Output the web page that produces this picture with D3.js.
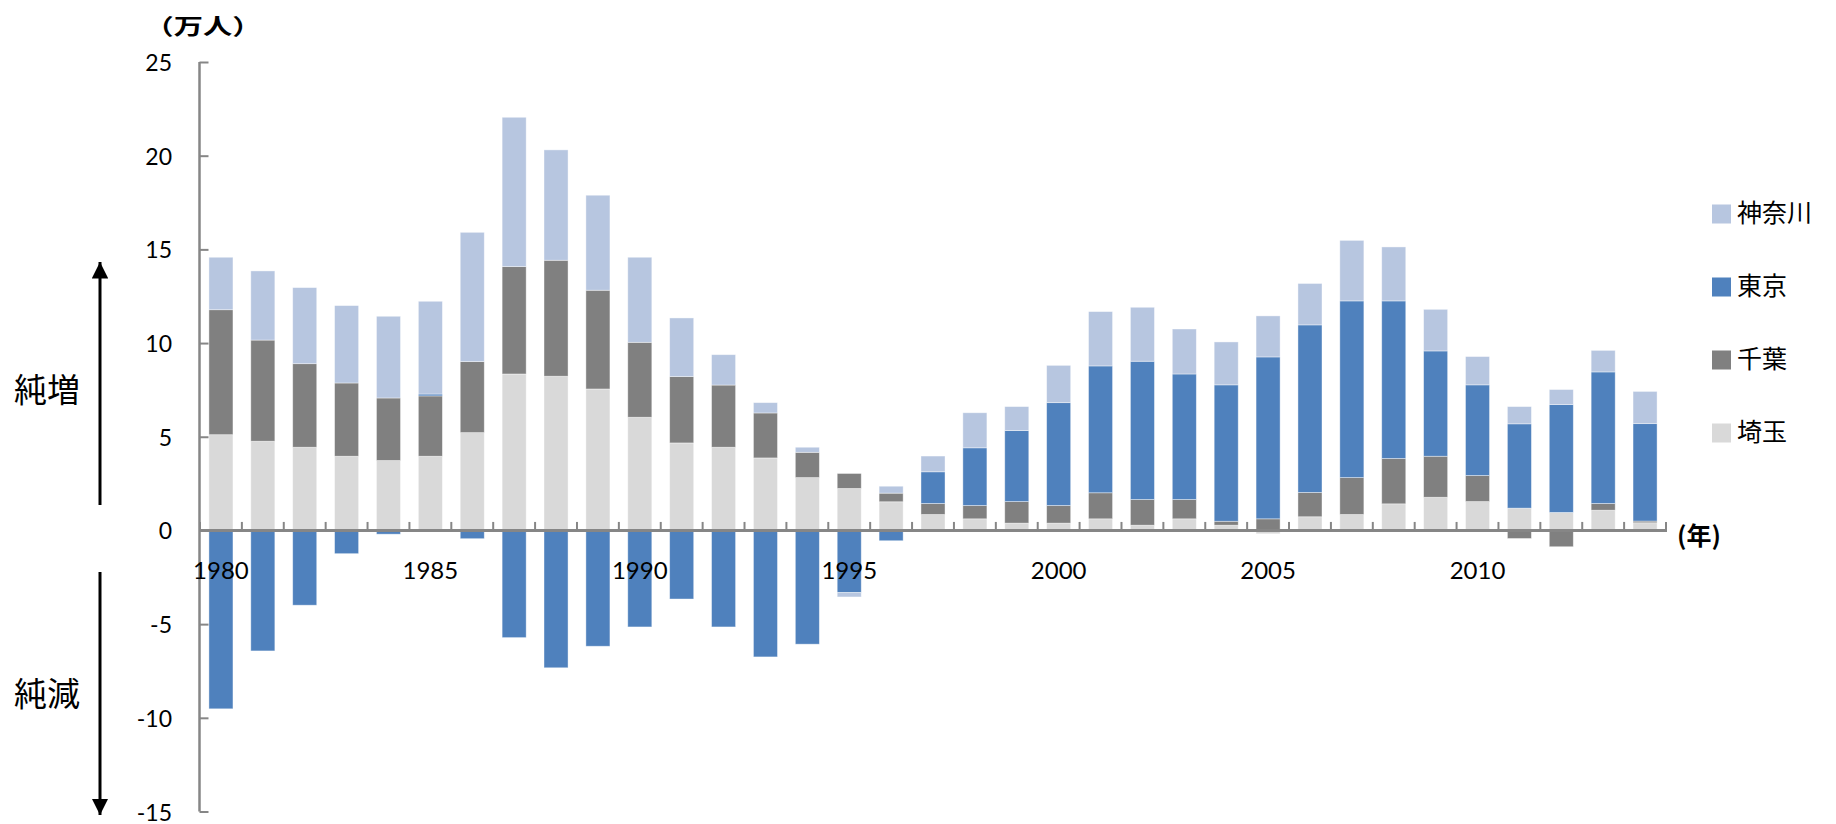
<!DOCTYPE html>
<html>
<head>
<meta charset="utf-8">
<script src="https://cdn.jsdelivr.net/npm/d3@7"></script>
<style>
  html, body { margin: 0; padding: 0; background: #fff; }
  svg { display: block; }
</style>
</head>
<body>
<svg id="chart" width="1836" height="824"></svg>
<script>
// ---- data (万人) ----
const years = [1980,1981,1982,1983,1984,1985,1986,1987,1988,1989,
               1990,1991,1992,1993,1994,1995,1996,1997,1998,1999,
               2000,2001,2002,2003,2004,2005,2006,2007,2008,2009,
               2010,2011,2012,2013,2014];
const saitama  = [5.11,4.76,4.44,3.96,3.73,3.96,5.22,8.35,8.23,7.55,
                  6.04,4.67,4.44,3.87,2.82,2.24,1.53,0.85,0.62,0.39,
                  0.39,0.62,0.28,0.62,0.28,-0.18,0.73,0.85,1.42,1.77,
                  1.54,1.19,0.96,1.08,0.41];
const chiba    = [6.67,5.40,4.46,3.91,3.34,3.22,3.79,5.73,6.19,5.27,
                  4.00,3.54,3.32,2.40,1.35,0.80,0.46,0.59,0.71,1.15,
                  0.94,1.39,1.37,1.03,0.21,0.62,1.30,1.97,2.42,2.19,
                  1.39,-0.43,-0.87,0.36,0.09];
const tokyo    = [-9.52,-6.43,-3.99,-1.24,-0.20,0.10,-0.44,-5.72,-7.33,-6.18,
                  -5.15,-3.66,-5.15,-6.75,-6.07,-3.32,-0.55,1.69,3.08,3.79,
                  5.49,6.77,7.38,6.70,7.28,8.64,8.94,9.43,8.41,5.62,
                  4.84,4.50,5.76,7.02,5.20];
const kanagawa = [2.80,3.69,4.06,4.13,4.36,4.95,6.90,7.97,5.89,5.07,
                  4.54,3.13,1.62,0.55,0.27,-0.23,0.37,0.84,1.87,1.28,
                  1.99,2.90,2.88,2.40,2.29,2.19,2.21,3.23,2.88,2.22,
                  1.51,0.92,0.80,1.15,1.72];
const seriesNames = ["埼玉","千葉","東京","神奈川"];
const legendOrder = ["神奈川","東京","千葉","埼玉"];
const yTicks = [25,20,15,10,5,0,-5,-10,-15];
const xLabelYears = [1980,1985,1990,1995,2000,2005,2010];
const unitLabel = "（万人）";
const yearLabel = "(年)";
const upLabel = "純増";
const downLabel = "純減";

// ---- build table ----
const seriesValues = {"埼玉": saitama, "千葉": chiba, "東京": tokyo, "神奈川": kanagawa};
const table = years.map((y, i) => {
  const row = {year: y};
  seriesNames.forEach(k => row[k] = seriesValues[k][i]);
  return row;
});

const colors = {"埼玉": "#D9D9D9", "千葉": "#808080", "東京": "#4F81BD", "神奈川": "#B7C6E0"};
const axisColor = "#868686";
const numFont = "Lato, 'Noto Sans', sans-serif";
const cjkFont = "'Noto Sans CJK JP', 'Noto Sans', sans-serif";

const svg = d3.select("#chart");

const x = d3.scaleBand().domain(years).range([200, 1666]).paddingInner(0.426).paddingOuter(0.213);
const y = d3.scaleLinear().domain([-15, 25]).range([811.5, 62]);

const stack = d3.stack().keys(seriesNames).offset(d3.stackOffsetDiverging);
const stacked = stack(table);

// bars
const gBars = svg.append("g");
gBars.selectAll("g.series")
  .data(stacked)
  .join("g")
  .attr("class", "series")
  .attr("fill", d => colors[d.key])
  .selectAll("rect")
  .data(d => d)
  .join("rect")
  .attr("x", d => x(d.data.year))
  .attr("width", x.bandwidth())
  .attr("y", d => y(Math.max(d[0], d[1])))
  .attr("height", d => Math.abs(y(d[0]) - y(d[1])))
  .attr("stroke", "#ffffff")
  .attr("stroke-opacity", 0.5)
  .attr("stroke-width", 0.8);

// y axis
const yAxis = d3.axisRight(y).tickValues(yTicks).tickSize(9).tickFormat("");
const gY = svg.append("g").attr("transform", "translate(199.5,0)").call(yAxis);
gY.select(".domain").attr("stroke", axisColor).attr("stroke-width", 2.5).attr("d", `M0,${y(25)}V${y(-15)}`);
gY.selectAll(".tick line").attr("stroke", axisColor).attr("stroke-width", 2);

svg.append("g").selectAll("text")
  .data(yTicks)
  .join("text")
  .attr("x", 172)
  .attr("y", d => y(d))
  .attr("text-anchor", "end")
  .attr("dominant-baseline", "central")
  .attr("font-family", numFont)
  .attr("font-size", 23)
  .attr("fill", "#000")
  .text(d => d);

// x axis line & ticks at band boundaries
const step = x.step();
const x0 = x.range()[0];
const boundaries = d3.range(years.length + 1).map(i => x0 + i * step);
const gX = svg.append("g");
gX.append("line")
  .attr("x1", 199).attr("x2", x.range()[1] + 1)
  .attr("y1", y(0)).attr("y2", y(0))
  .attr("stroke", axisColor).attr("stroke-width", 3);
gX.selectAll("line.tick")
  .data(boundaries)
  .join("line")
  .attr("class", "tick")
  .attr("x1", d => d).attr("x2", d => d)
  .attr("y1", y(0) - 8.5).attr("y2", y(0))
  .attr("stroke", axisColor).attr("stroke-width", 2);

// x labels
svg.append("g").selectAll("text")
  .data(xLabelYears)
  .join("text")
  .attr("x", d => x(d) + x.bandwidth() / 2)
  .attr("y", 579)
  .attr("text-anchor", "middle")
  .attr("font-family", numFont)
  .attr("font-size", 24)
  .attr("fill", "#000")
  .text(d => d);

// unit labels
svg.append("text")
  .attr("transform", "translate(144.5,24) scale(1.33,1)")
  .attr("dominant-baseline", "central")
  .attr("font-family", cjkFont).attr("font-weight", "bold")
  .attr("font-size", 22).attr("fill", "#000")
  .text(unitLabel);

svg.append("text")
  .attr("x", 1677).attr("y", 534)
  .attr("dominant-baseline", "central")
  .attr("font-family", cjkFont).attr("font-weight", "bold")
  .attr("font-size", 25).attr("fill", "#000")
  .text(yearLabel);

// legend
const legend = svg.append("g");
const legendY = d3.scalePoint().domain(legendOrder).range([214, 433]);
legendOrder.forEach(k => {
  legend.append("rect")
    .attr("x", 1712).attr("y", legendY(k) - 9.5)
    .attr("width", 19).attr("height", 19)
    .attr("fill", colors[k]);
  legend.append("text")
    .attr("x", 1737).attr("y", legendY(k) - 3)
    .attr("dominant-baseline", "central")
    .attr("font-family", cjkFont)
    .attr("font-size", 25).attr("fill", "#000")
    .text(k);
});

// left annotation arrows
const defs = svg.append("defs");
defs.append("marker")
  .attr("id", "ah")
  .attr("viewBox", "0 0 10 10")
  .attr("refX", 10).attr("refY", 5)
  .attr("markerWidth", 5.5).attr("markerHeight", 5.5)
  .attr("markerUnits", "strokeWidth")
  .attr("orient", "auto")
  .append("path").attr("d", "M0,0L10,5L0,10Z").attr("fill", "#000");

svg.append("line")
  .attr("x1", 100).attr("x2", 100).attr("y1", 505).attr("y2", 262)
  .attr("stroke", "#000").attr("stroke-width", 3)
  .attr("marker-end", "url(#ah)");
svg.append("line")
  .attr("x1", 100).attr("x2", 100).attr("y1", 572).attr("y2", 815)
  .attr("stroke", "#000").attr("stroke-width", 3)
  .attr("marker-end", "url(#ah)");

svg.append("text")
  .attr("x", 14).attr("y", 388)
  .attr("dominant-baseline", "central")
  .attr("font-family", cjkFont).attr("font-size", 33).attr("fill", "#000")
  .text(upLabel);
svg.append("text")
  .attr("x", 14).attr("y", 692)
  .attr("dominant-baseline", "central")
  .attr("font-family", cjkFont).attr("font-size", 33).attr("fill", "#000")
  .text(downLabel);
</script>
</body>
</html>
